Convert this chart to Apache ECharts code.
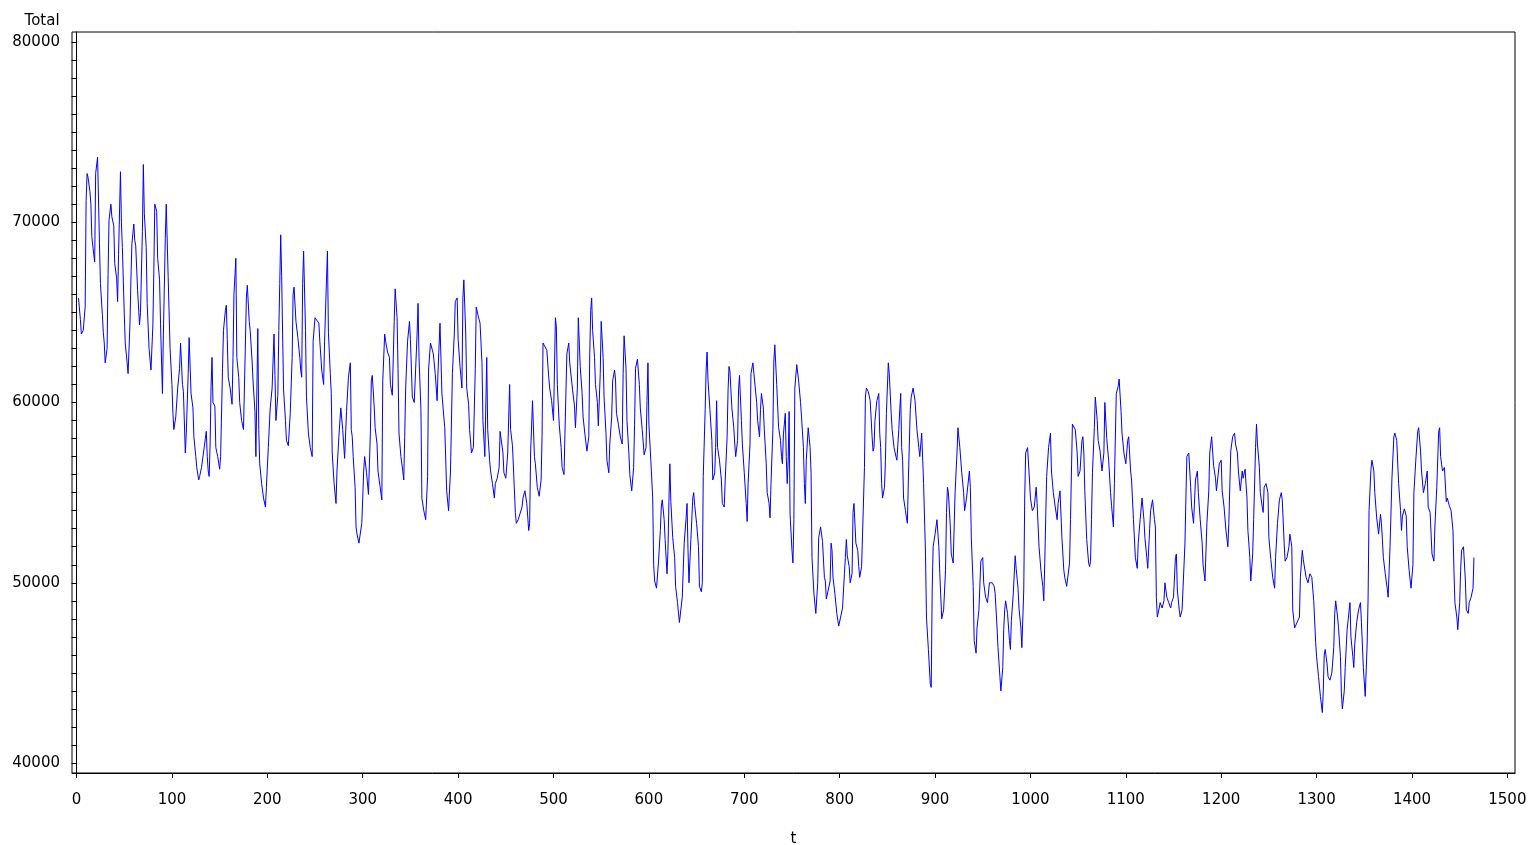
<!DOCTYPE html>
<html>
<head>
<meta charset="utf-8">
<title>Total vs t</title>
<script src="https://cdn.jsdelivr.net/npm/echarts@6/dist/echarts.min.js"></script>
<style>
  html, body { margin: 0; padding: 0; background: #fff; }
  #chart { width: 1529px; height: 845px; }
</style>
</head>
<body>
<div id="chart"></div>
<script>
// t positions and Total values (peaks, troughs and turning points)
const tValues = [
  2,4,5,7,9,10,11,12,14,15,16,18,19,20,22,24,25,27,28,29,30,32,33,34,36,37,39,40,42,43,44,46,47,48,50,51,53,54,56,57,58,60,61,62,64,66,67,69,70,71,73,74,76,78,80,81,82,84,85,87,88,90,91,93,94,96,98,100,
  101,102,104,106,108,109,111,112,114,115,117,118,120,122,123,125,126,128,129,131,133,135,136,137,138,139,140,141,142,143,145,146,148,150,151,153,154,156,157,158,159,161,163,164,165,167,168,170,171,173,175,177,178,179,181,182,184,185,187,188,190,191,192,194,196,198,199,
  201,203,205,206,207,208,209,211,212,213,214,215,216,217,219,220,222,224,226,227,228,230,232,234,235,236,237,238,240,241,243,245,247,248,250,252,254,255,257,259,260,262,263,264,266,267,268,270,272,273,275,277,279,280,281,283,285,287,288,289,290,292,293,294,296,299,
  300,301,302,304,306,308,309,310,312,313,315,316,318,320,321,323,324,326,328,329,331,333,334,336,337,338,340,342,343,344,345,347,349,350,352,354,357,358,359,361,362,364,366,368,369,371,372,374,376,378,379,381,382,383,385,386,388,390,392,394,396,397,399,
  400,402,404,405,406,408,409,411,412,414,416,418,419,421,423,425,426,428,430,431,433,434,436,438,439,441,443,444,446,447,448,450,452,453,454,455,457,459,460,461,463,465,467,468,470,472,474,475,476,478,480,481,483,485,487,488,489,491,493,495,496,498,
  500,502,503,504,506,508,509,511,512,514,516,517,519,520,522,523,525,526,528,530,531,533,535,537,538,539,540,541,543,544,546,547,549,550,552,553,555,556,558,559,561,562,564,565,566,568,570,572,573,574,576,577,579,580,582,584,585,586,588,590,591,593,595,597,598,599,
  600,602,604,605,606,608,610,612,613,614,616,617,619,620,621,622,623,625,627,628,630,632,633,635,637,639,640,641,642,644,646,647,648,650,652,653,655,656,657,659,660,661,662,664,666,667,669,670,671,672,674,676,677,679,680,682,683,684,685,687,689,690,691,693,694,695,697,698,
  700,702,703,704,706,707,709,710,711,713,714,716,717,718,720,721,723,724,726,727,728,730,731,732,734,736,738,739,740,741,743,744,745,746,747,748,750,751,752,753,755,757,759,760,762,763,764,765,767,768,769,770,771,773,775,777,778,780,782,784,785,786,788,790,791,792,793,795,797,799,
  801,803,805,806,807,808,810,811,813,814,815,816,817,819,820,821,823,824,826,827,828,830,832,834,835,836,837,839,841,842,843,844,845,847,848,849,851,852,854,855,857,859,860,862,863,864,865,866,867,869,870,871,872,874,875,877,879,881,883,884,886,888,890,891,893,895,896,897,898,
  900,902,904,905,907,909,911,912,913,914,916,917,919,921,923,924,926,928,930,931,933,935,936,937,938,940,941,943,944,946,948,950,951,953,955,957,959,960,962,963,965,966,968,969,971,972,973,974,976,978,979,980,982,984,985,987,988,990,991,993,994,995,997,999,
  1000,1002,1004,1006,1007,1009,1011,1013,1014,1015,1017,1019,1021,1022,1024,1026,1028,1029,1031,1033,1035,1036,1038,1041,1042,1043,1044,1045,1047,1049,1050,1052,1054,1055,1056,1057,1059,1061,1062,1063,1064,1065,1067,1068,1070,1071,1073,1075,1077,1078,1080,1082,1084,1085,1087,1088,1090,1091,1092,1093,1095,1096,1098,
  1100,1102,1103,1105,1106,1108,1110,1112,1113,1115,1117,1119,1120,1122,1123,1125,1126,1128,1130,1131,1132,1133,1135,1136,1138,1140,1141,1143,1145,1147,1148,1150,1152,1153,1154,1156,1157,1159,1161,1162,1163,1164,1166,1168,1169,1171,1173,1175,1176,1178,1180,1181,1183,1185,1187,1188,1190,1192,1194,1195,1196,1198,
  1200,1201,1203,1205,1207,1208,1210,1212,1214,1215,1217,1218,1220,1222,1223,1225,1227,1228,1230,1231,1233,1234,1236,1237,1238,1240,1241,1243,1244,1245,1247,1249,1250,1252,1254,1256,1257,1259,1261,1263,1264,1266,1267,1269,1271,1272,1274,1275,1277,1279,1282,1283,1285,1286,1287,1289,1291,1293,1295,1297,1299,
  1300,1302,1304,1306,1307,1308,1309,1311,1312,1314,1316,1318,1319,1320,1322,1323,1325,1326,1327,1329,1330,1332,1333,1335,1336,1338,1339,1340,1342,1344,1346,1347,1349,1351,1353,1354,1355,1357,1358,1360,1361,1363,1365,1367,1368,1370,1372,1374,1375,1377,1379,1381,1382,1384,1386,1388,1389,1390,1392,1394,1395,1397,1399,
  1401,1402,1404,1406,1407,1409,1410,1412,1414,1416,1417,1419,1421,1423,1424,1426,1428,1429,1430,1432,1434,1436,1437,1439,1441,1443,1444,1445,1447,1448,1450,1451,1452,1454,1456,1457,1459,1460,1462,1464,1465
];

const totalValues = [
  65800,64600,63800,64000,65300,71200,72700,72500,71700,71000,69200,68200,67800,72700,73600,68800,66600,64900,63900,63300,62200,63000,67100,70100,71000,70300,69800,67700,66900,65600,68200,72800,70000,68600,64900,63300,62200,61600,64400,66900,68800,69900,69000,68700,66200,64300,65000,69500,73200,70500,68600,65500,63000,61800,64300,67300,71000,70600,68000,66800,64400,60500,63800,69100,71000,67000,63000,61000,
  59400,58500,59200,60800,61900,63300,61000,60600,57200,58300,61600,63600,60500,59700,58100,57000,56400,55700,55900,56400,57200,58000,58400,57000,56200,55900,57700,60900,62500,60000,59800,57500,57000,56300,57000,61900,64000,65100,65400,63500,61400,60800,59900,62500,66000,68000,62500,61400,60000,59000,58500,63300,65800,66500,64500,64000,62300,61200,59500,57000,64100,58500,56600,55500,54700,54200,55300,
  57500,59700,60800,62300,63800,61500,59000,60400,64000,66600,69300,67000,63800,60700,59000,57900,57600,59400,62500,66000,66400,64500,63600,62500,61800,61400,66600,68400,64000,60300,58300,57500,57000,63400,64700,64800,64400,63400,61800,61000,63400,66800,68400,63900,61600,60500,57200,55500,54400,56200,58100,59700,58500,58600,56900,59500,61400,62200,58500,58100,57000,55300,53100,52700,52200,53300,
  54700,56200,57000,56100,54900,58300,61200,61500,59800,58600,57700,56200,55400,54600,61200,63800,63400,62800,62500,61000,60400,64500,66300,64700,61900,58300,57000,56200,55700,58100,60800,63400,64500,63500,60300,60000,63800,65500,62500,59600,54700,54000,53500,55900,61800,63300,63400,62700,61600,60100,61800,64400,64300,60500,59200,58600,55100,54000,56200,61600,63800,65600,65800,
  63500,62000,60800,65800,66800,63800,60800,59900,58500,57200,57500,61900,65300,64800,64400,62200,59000,57000,62500,58500,56800,56200,55500,54700,55500,55800,56400,58400,58300,57200,56100,55800,57200,57200,61000,58500,57600,57700,53900,53300,53500,53600,54200,54700,55100,54400,52900,53300,57200,60100,57000,56600,55300,54800,55700,58100,63300,63400,62900,61400,60800,60100,
  59000,64700,64200,61000,58800,57500,56400,56000,58300,62700,63300,62200,62100,60700,59800,58600,60800,64700,62000,60500,59200,58200,57300,58100,62700,65100,65800,64000,62500,61000,60000,58700,61600,64500,62500,60300,58300,56800,56100,57700,59200,61200,61800,61300,59400,58800,58100,57700,61600,63700,61900,59000,57200,56000,55100,56400,58800,61900,62400,61000,59700,58500,57100,57500,60100,62200,
  58800,56800,54700,51000,50100,49700,51100,52900,54200,54600,53500,52400,50500,51800,54500,56600,54500,52500,51400,49800,48900,47800,47800,49200,52200,53600,54400,51800,50000,52400,54700,55000,54300,53300,52000,49800,49500,50000,55900,59600,61800,62800,61200,59600,57900,55700,56100,57500,60100,57500,56800,55700,54400,54200,55700,58100,60700,62000,61700,59700,58600,57700,57000,57900,60700,61500,59000,57700,
  56100,54400,53400,55500,57700,61600,62200,62300,62300,60000,59000,58100,59600,60500,59700,58500,56600,55000,54400,53600,55500,58500,62300,63200,61000,58600,57900,57000,56600,58200,59400,57000,55500,56800,59500,53800,51800,51100,53500,60800,62100,61200,60000,59200,57500,55500,54400,56800,58600,58600,57500,56100,51400,49400,48300,50000,52500,53100,52300,50300,50100,49100,49600,50100,52200,51800,50300,49400,48300,47600,
  47700,48600,50500,51400,52400,51500,50900,50000,50500,53900,54400,54500,52200,51800,50900,50300,50900,52700,56400,60300,60800,60600,60100,58100,57300,57500,59000,60100,60500,58300,57500,55500,54700,55300,56800,59400,62200,61600,59400,58500,57500,57000,56800,58500,59600,60500,57500,56800,54700,54000,53600,53300,55700,59600,60300,60800,60100,58500,57500,57000,58300,55500,51600,48100,46300,44400,44200,49600,52000,
  52700,53500,52000,50500,48000,48500,50700,53900,55300,55000,53100,51600,51100,55000,57200,58600,57500,56100,55000,54000,54700,55700,56200,55300,52500,49800,46800,46100,47500,48500,51200,51400,50000,49200,48900,50000,50100,50000,49800,49400,47500,46400,44800,44000,45300,47400,48500,49000,48300,46800,46300,47900,49400,51500,50800,49700,48600,47500,46400,49600,54700,57200,57500,55700,
  54700,54000,54200,55300,54400,52000,50700,49800,49000,51100,55900,57500,58300,56200,55000,54200,53500,54400,55100,52500,50700,50300,49800,51100,53500,56200,58800,58900,58500,57200,55900,56200,57900,58100,57200,55100,52400,51100,50900,51200,53500,56100,58600,60300,59000,57900,57300,56200,57200,60000,58000,56800,55000,54300,53100,55500,60500,60700,60900,61300,59500,58300,57200,
  56600,57900,58100,56200,55700,53500,51400,50800,52200,53500,54700,53500,52500,51400,50800,53000,54000,54600,53500,53100,49200,48100,48600,48900,48600,49000,50000,49200,48900,48600,48900,49200,51400,51600,49600,48500,48100,48500,48500,52200,54700,57000,57200,55300,54200,53300,55700,56200,55000,53500,52200,51000,50100,53300,55100,57200,58100,56500,55800,55100,55000,56600,
  56800,55100,54200,52900,52000,53300,57300,58100,58300,57700,57200,56200,55100,56200,55800,56300,54700,52900,51400,50100,51600,53500,57500,58800,57700,56400,55000,54200,53900,55300,55500,55000,52500,51300,50300,49700,51400,53300,54600,55000,54600,52200,51200,51400,52000,52700,52000,48500,47500,47400,48100,50300,51800,51300,51200,50300,50000,50500,50300,49000,46700,
  45900,44800,43700,42800,44000,46000,46300,45500,44800,44600,45000,46400,48300,49000,48100,47500,45900,43900,43000,44000,45300,47400,47900,48900,47000,45900,45300,46600,47800,48500,48900,47800,45300,43700,46600,49200,54000,56300,56800,56200,55000,53600,52700,53800,53300,51400,50500,49700,49200,52000,55800,58100,58300,57900,55500,54000,52900,53700,54100,53700,52000,50700,49700,
  51000,55000,56800,58400,58600,57300,56200,55000,55500,56200,54200,53900,51600,51200,53100,55300,58400,58600,57000,56200,56400,54500,54700,54300,54000,52900,50700,48900,48100,47400,48900,50700,51800,52000,50100,48500,48300,48900,49200,49700,51400
];

// axis labels and tick positions
const xLabels = [0,100,200,300,400,500,600,700,800,900,1000,1100,1200,1300,1400,1500];
const yLabels = [40000,50000,60000,70000,80000];
const yTicks = [];
for (let v = 40000; v <= 80000; v += 1000) yTicks.push(v);

const seriesData = tValues.map((t, i) => [t, totalValues[i]]);

const font = "DejaVu Sans";
const chart = echarts.init(document.getElementById("chart"));

chart.setOption({
  animation: false,
  backgroundColor: "#fff",
  textStyle: { fontFamily: font },
  grid: {
    left: 72,
    top: 32,
    width: 1443,
    height: 741,
    outerBoundsMode: "none",
    containLabel: false,
    show: true,
    borderColor: "#000",
    borderWidth: 1
  },
  xAxis: {
    type: "value",
    min: -4.8,
    max: 1508,
    name: "t",
    nameLocation: "middle",
    nameGap: 59,
    nameTextStyle: { color: "#000", fontSize: 15, fontFamily: font },
    axisLine: { show: true, lineStyle: { color: "#000", width: 1 } },
    axisTick: { show: true, length: 5, customValues: xLabels, lineStyle: { color: "#000" } },
    axisLabel: {
      color: "#000", fontSize: 15, margin: 20, customValues: xLabels, fontFamily: font,
      formatter: (v) => String(v)
    },
    splitLine: { show: false }
  },
  yAxis: {
    type: "value",
    min: 39450,
    max: 80550,
    name: "Total",
    nameLocation: "end",
    nameGap: 3,
    nameTextStyle: { color: "#000", fontSize: 15, align: "right", padding: [0, 17, 0, 0], fontFamily: font },
    axisLine: { show: true, lineStyle: { color: "#000", width: 1 } },
    axisTick: { show: true, length: 5, customValues: yTicks, lineStyle: { color: "#000" } },
    axisLabel: {
      color: "#000", fontSize: 15, margin: 12, customValues: yLabels, fontFamily: font,
      formatter: (v) => String(v)
    },
    splitLine: { show: false }
  },
  series: [
    {
      name: "Total",
      type: "line",
      data: seriesData,
      showSymbol: false,
      symbol: "none",
      lineStyle: { color: "#0000ff", width: 1 },
      itemStyle: { color: "#0000ff" }
    }
  ]
});
</script>
</body>
</html>
